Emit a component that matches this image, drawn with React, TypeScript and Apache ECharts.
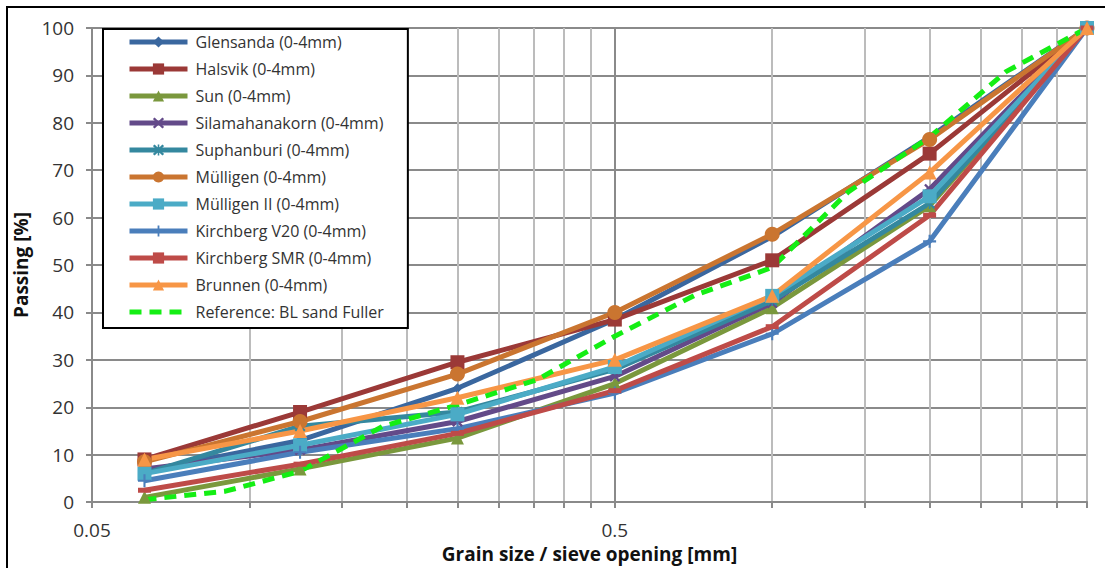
import React, { useEffect, useRef } from "react";
import * as echarts from "echarts";

const sieveSizes = [0.063, 0.125, 0.25, 0.5, 1, 2, 4];

const glensanda = [6.5, 13, 24, 38.5, 56, 77, 100];
const halsvik = [9, 19, 29.5, 38.5, 51, 73.5, 100];
const sun = [1, 7, 13.5, 25, 41, 62.5, 100];
const silamahanakorn = [7, 11, 17, 26.5, 42, 66, 100];
const suphanburi = [6, 16, 19, 28, 42.5, 63, 100];
const muelligen = [8.5, 17, 27, 40, 56.5, 76.5, 100];
const muelligen2 = [6, 12, 18.5, 28.5, 43.5, 64.5, 100];
const kirchbergV20 = [4.5, 10.5, 15.5, 23, 35.5, 55, 100];
const kirchbergSMR = [2.5, 8, 14.5, 23.5, 37, 60.5, 100];
const brunnen = [9, 15, 22, 30, 43.5, 69.5, 100];

const fullerSizes = [0.063, 0.09, 0.125, 0.18, 0.25, 0.355, 0.5, 0.71, 1, 1.4, 2, 2.8, 4];
const fullerValues = [0.5, 2.3, 6.5, 16, 20.5, 25.8, 35, 43.6, 49.5, 65.5, 77, 90.8, 100];

const xTickValues = [0.05, 0.1, 0.15, 0.2, 0.25, 0.3, 0.35, 0.4, 0.45, 0.5, 1, 1.5, 2, 2.5, 3, 3.5, 4];
const xLabelValues = [0.05, 0.5];

const X_PATH = "path://M0,1.5 L1.5,0 L5,3.5 L8.5,0 L10,1.5 L6.5,5 L10,8.5 L8.5,10 L5,6.5 L1.5,10 L0,8.5 L3.5,5 Z";
const STAR_PATH =
  "path://M0,1.5 L1.5,0 L5,3.5 L8.5,0 L10,1.5 L6.5,5 L10,8.5 L8.5,10 L5,6.5 L1.5,10 L0,8.5 L3.5,5 Z M4.3,0 L5.7,0 L5.7,10 L4.3,10 Z";
const PLUS_PATH = "path://M4.2,0 L5.8,0 L5.8,4.2 L10,4.2 L10,5.8 L5.8,5.8 L5.8,10 L4.2,10 L4.2,5.8 L0,5.8 L0,4.2 L4.2,4.2 Z";

const seriesDefs = [
  { name: "Glensanda (0-4mm)", values: glensanda, color: "#3a679f", symbol: "diamond", size: 10 },
  { name: "Halsvik (0-4mm)", values: halsvik, color: "#9b3937", symbol: "rect", size: 14 },
  { name: "Sun (0-4mm)", values: sun, color: "#7a983d", symbol: "triangle", size: 13 },
  { name: "Silamahanakorn (0-4mm)", values: silamahanakorn, color: "#634a89", symbol: X_PATH, size: 11 },
  { name: "Suphanburi (0-4mm)", values: suphanburi, color: "#34889f", symbol: STAR_PATH, size: 11 },
  { name: "Mülligen (0-4mm)", values: muelligen, color: "#ca7530", symbol: "circle", size: 15 },
  { name: "Mülligen II (0-4mm)", values: muelligen2, color: "#4babc6", symbol: "rect", size: 14 },
  { name: "Kirchberg V20 (0-4mm)", values: kirchbergV20, color: "#4a7ebb", symbol: PLUS_PATH, size: 13 },
  { name: "Kirchberg SMR (0-4mm)", values: kirchbergSMR, color: "#be4b48", symbol: "rect", size: [13, 5] },
  { name: "Brunnen (0-4mm)", values: brunnen, color: "#f79646", symbol: "triangle", size: 14 },
];

const FONT = "'Open Sans', 'Noto Sans', sans-serif";
const REF_NAME = "Reference: BL sand Fuller";

export default function App() {
  const ref = useRef<HTMLDivElement>(null);

  useEffect(() => {
    if (!ref.current) return;
    const chart = echarts.init(ref.current, undefined, { renderer: "svg" });

    const series: any[] = seriesDefs.map((s) => ({
      name: s.name,
      type: "line",
      data: sieveSizes.map((x, i) => [x, s.values[i]]),
      symbol: s.symbol,
      symbolSize: s.size,
      showAllSymbol: true,
      lineStyle: { color: s.color, width: 5 },
      itemStyle: { color: s.color },
      emphasis: { disabled: true },
    }));
    series.push({
      name: REF_NAME,
      type: "line",
      data: fullerSizes.map((x, i) => [x, fullerValues[i]]),
      symbol: "none",
      lineStyle: { color: "#14ee14", width: 5, type: [12, 8] },
      itemStyle: { color: "#14ee14" },
      emphasis: { disabled: true },
    });

    const gridLineColors = xTickValues.map((v) => (v === 0.5 ? "#8a8a8a" : "#bcbcbc"));

    chart.setOption({
      animation: false,
      backgroundColor: "#ffffff",
      grid: { left: 92, top: 28, width: 995, height: 479, containLabel: false },
      legend: {
        orient: "vertical",
        left: 103,
        top: 29,
        padding: [5, 24, 8, 24],
        itemWidth: 58,
        itemHeight: 14,
        itemGap: 11,
        backgroundColor: "#ffffff",
        borderColor: "#000000",
        borderWidth: 2,
        borderRadius: 0,
        lineStyle: { width: 5 },
        textStyle: { fontFamily: FONT, fontSize: 16, color: "#333333", padding: [0, 0, 0, 3] },
        data: series.map((s) =>
          s.name === REF_NAME ? { name: s.name, itemStyle: { opacity: 0 } } : { name: s.name }
        ),
      },
      xAxis: {
        type: "log",
        logBase: 10,
        min: 0.05,
        max: 4,
        name: "Grain size / sieve opening [mm]",
        nameLocation: "middle",
        nameGap: 38,
        nameTextStyle: { fontFamily: FONT, fontSize: 19, fontWeight: "bold", color: "#111111" },
        axisLine: { show: true, lineStyle: { color: "#8a8a8a", width: 2 } },
        axisTick: { show: true, length: 6, customValues: xTickValues, lineStyle: { color: "#8a8a8a", width: 2 } },
        axisLabel: {
          customValues: xLabelValues,
          margin: 18,
          fontFamily: FONT,
          fontSize: 19,
          color: "#333333",
          formatter: (v: number) => String(Number(v.toPrecision(3))),
        },
        splitLine: { show: true, lineStyle: { color: gridLineColors, width: 2 } },
        minorTick: { show: false },
        minorSplitLine: { show: false },
      },
      yAxis: {
        type: "value",
        min: 0,
        max: 100,
        interval: 10,
        name: "Passing [%]",
        nameLocation: "middle",
        nameGap: 47,
        nameTextStyle: { fontFamily: FONT, fontSize: 19, fontWeight: "bold", color: "#111111" },
        axisLine: { show: true, lineStyle: { color: "#8a8a8a", width: 2 } },
        axisTick: { show: true, length: 6, lineStyle: { color: "#8a8a8a", width: 2 } },
        axisLabel: { margin: 18, fontFamily: FONT, fontSize: 19, color: "#333333" },
        splitLine: { show: true, lineStyle: { color: "#8a8a8a", width: 2 } },
      },
      graphic: [
        {
          type: "rect",
          shape: { x: 7, y: 7, width: 1300, height: 800 },
          style: { fill: "none", stroke: "#000000", lineWidth: 2 },
          silent: true,
          z: 10,
        },
      ],
      series,
    });

    return () => chart.dispose();
  }, []);

  return (
    <div
      ref={ref}
      style={{ position: "fixed", left: 0, top: 0, width: 1105, height: 568, background: "#fff" }}
    />
  );
}
